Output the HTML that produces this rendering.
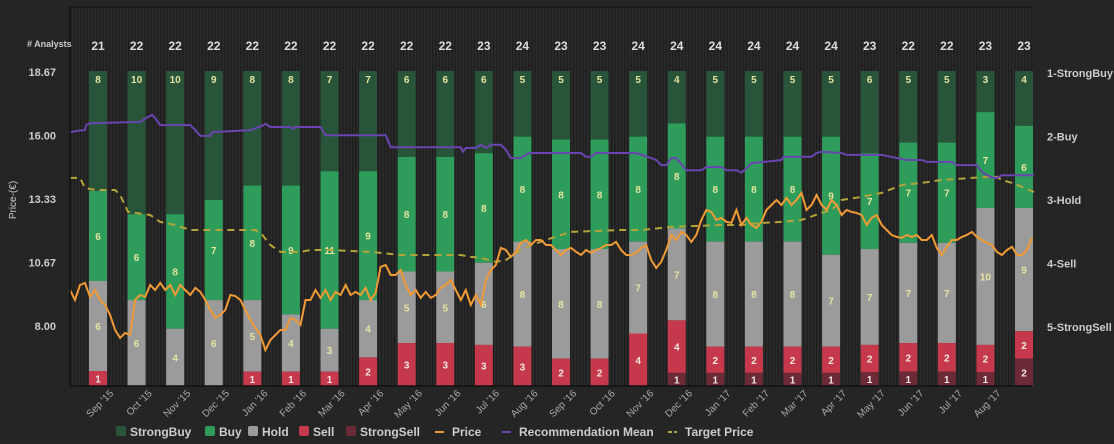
<!DOCTYPE html>
<html><head><meta charset="utf-8"><style>
html,body{margin:0;padding:0;background:#252525;width:1114px;height:444px;overflow:hidden}
svg{display:block;font-family:"Liberation Sans",Arial,sans-serif}
</style></head><body>
<svg id="chart" width="1114" height="444" viewBox="0 0 1114 444">
<defs>
<pattern id="stripes" width="3.2" height="10" patternUnits="userSpaceOnUse">
<rect width="3.2" height="10" fill="#2a2a2a"/><rect width="1.2" height="10" fill="#1c1c1c"/>
</pattern>
</defs>
<rect x="70" y="7" width="962" height="379" fill="url(#stripes)"/>
<g id="bars"></g>
<g id="lines"></g>
<line x1="70" y1="7" x2="70" y2="386" stroke="#111" stroke-width="1.5"/>
<line x1="70" y1="386" x2="1032" y2="386" stroke="#111" stroke-width="1.5"/>
<line x1="70" y1="7" x2="1032" y2="7" stroke="#111" stroke-width="1"/>
<g id="axes" font-size="11" fill="#ccc"></g>
<text x="27" y="47" font-size="9" font-weight="bold" fill="#ccc"># Analysts</text>
<text transform="translate(16,200) rotate(-90)" text-anchor="middle" font-size="10" fill="#ccc">Price-(€)</text>
<g id="legend" font-size="12" font-weight="bold" fill="#ccc"></g>
</svg>
<script>
const months=["Sep '15","Oct '15","Nov '15","Dec '15","Jan '16","Feb '16","Mar '16","Apr '16","May '16","Jun '16","Jul '16","Aug '16","Sep '16","Oct '16","Nov '16","Dec '16","Jan '17","Feb '17","Mar '17","Apr '17","May '17","Jun '17","Jul '17","Aug '17"];
const strongBuy=[8,10,10,9,8,8,7,7,6,6,6,5,5,5,5,4,5,5,5,5,6,5,5,3,4];
const buy=[6,6,8,7,8,9,11,9,8,8,8,8,8,8,8,8,8,8,8,9,7,7,7,7,6];
const hold=[6,6,4,6,5,4,3,4,5,5,6,8,8,8,7,7,8,8,8,7,7,7,7,10,9];
const sell=[1,0,0,0,1,1,1,2,3,3,3,3,2,2,4,4,2,2,2,2,2,2,2,2,2];
const strongSell=[0,0,0,0,0,0,0,0,0,0,0,0,0,0,0,1,1,1,1,1,1,1,1,1,2];
const priceTicks=[8.00,10.67,13.33,16.00,18.67];
const recTicks=["1-StrongBuy","2-Buy","3-Hold","4-Sell","5-StrongSell"];
const price=[9.51,9.09,9.72,9.81,9.22,9.51,9.09,8.88,8.46,7.83,7.50,7.71,7.62,9.09,9.30,9.22,9.72,9.51,9.81,9.51,9.72,9.30,9.72,9.51,9.30,9.60,9.43,9.09,8.67,8.34,8.46,8.67,9.30,9.26,9.09,8.67,8.25,7.92,7.62,6.99,7.41,7.62,7.83,7.83,8.34,8.25,8.04,9.09,9.09,9.51,9.18,9.51,9.09,9.43,9.30,9.72,9.30,9.43,9.30,9.60,9.09,9.39,10.48,10.56,10.14,10.14,10.35,9.72,9.30,9.51,9.18,9.43,9.18,9.30,9.60,9.72,9.93,9.51,9.09,9.51,8.88,9.30,8.88,9.93,10.35,10.56,11.28,11.19,10.90,11.11,11.49,11.61,11.40,11.61,11.61,11.40,11.40,11.19,10.98,11.19,11.28,11.11,10.98,11.19,11.07,11.19,11.28,11.40,11.40,11.53,11.19,10.98,10.98,11.07,11.28,11.40,10.77,10.44,10.69,11.19,11.82,11.61,11.95,11.82,11.53,11.82,12.45,12.87,12.79,12.45,12.54,12.37,12.33,12.87,12.24,12.54,12.24,12.12,12.37,12.87,13.08,13.29,13.08,13.38,13.08,13.29,13.59,12.87,13.08,13.50,13.08,12.87,13.29,13.08,12.66,12.87,12.79,12.75,12.66,12.24,12.54,12.66,12.24,12.03,11.82,11.74,11.70,11.82,11.74,11.82,11.61,11.61,11.82,11.28,10.98,11.32,11.61,11.61,11.74,11.82,11.95,11.74,11.61,11.49,11.40,11.11,10.98,11.19,11.32,10.98,10.98,11.19,11.70];
const tpIdx=[0,2,3,5,9,10,11.6,13,16,18,21,24,26,37,38.4,40,42,46,48,52,60,66,78,80,82,85,87,90,92,98,100,110,114,120,130,134,138,142,146,150,152,154,158,162,166,170,174,180,183,185,186,188,192.4];
const tpVal=[14.22,14.22,13.80,13.71,13.71,13.50,12.79,12.75,12.66,12.37,12.24,12.03,12.03,12.03,11.82,11.40,11.11,11.11,11.19,11.19,11.11,10.98,10.98,10.90,10.86,10.69,10.77,11.19,11.40,11.82,11.95,12.03,12.03,12.16,12.24,12.24,12.33,12.37,12.45,12.75,12.87,13.29,13.42,13.59,13.92,14.01,14.13,14.22,14.26,14.26,14.13,14.01,13.63];
const recIdx=[0,1.6,3,3.2,4,14,15.6,16.4,17,18,24,25,26,28,28.4,36,38.4,39,40,44,44.6,45,50,51,63,64,78,78.4,79,81,82,83,84,86,87,88,90,91.6,92,102,103,104,105,112,113,116,117,118,119,120,121,123,126,127,130,131,133,134,135,136,142,142.4,148,149,150,154,155,162,167,170,171,176,177,181,182,184,185,186,192.4];
const recVal=[1.93,1.91,1.90,1.82,1.79,1.77,1.69,1.66,1.71,1.82,1.82,1.90,1.99,1.99,1.93,1.90,1.83,1.80,1.85,1.85,1.88,1.85,1.85,1.98,1.98,2.17,2.17,2.24,2.18,2.18,2.13,2.18,2.13,2.13,2.21,2.34,2.34,2.26,2.26,2.26,2.32,2.32,2.26,2.26,2.26,2.34,2.37,2.45,2.45,2.34,2.34,2.53,2.53,2.48,2.48,2.53,2.53,2.57,2.50,2.42,2.37,2.32,2.32,2.26,2.24,2.26,2.29,2.29,2.37,2.37,2.40,2.40,2.45,2.45,2.56,2.65,2.65,2.61,2.61];
const analystTotals=strongBuy.map((v,i)=>v+buy[i]+hold[i]+sell[i]+strongSell[i]);

const NS="http://www.w3.org/2000/svg";
function mk(tag,attrs,parent){const e=document.createElementNS(NS,tag);for(const k in attrs)e.setAttribute(k,attrs[k]);parent.appendChild(e);return e;}
const plotL=70,plotR=1032,barTop=71,barBot=386;
const firstC=98,stepC=(1024-98)/24;
function barX(i){return firstC+i*stepC;}
function yPrice(p){return 326-(p-8)/2.6667*63.5;}
function yRec(r){return 73+(r-1)*63.5;}
const tStep=(plotR-plotL)/(price.length-1);
function xT(i){return plotL+i*tStep;}

const gb=document.getElementById('bars');
const series=[[strongBuy,'#28543a','strongbuy'],[buy,'#2e9c5a','buy'],[hold,'#9b9b9b','hold'],[sell,'#c6384c','sell'],[strongSell,'#6b2a35','strongsell']];
const bw=18;
for(let i=0;i<strongBuy.length;i++){
  const tot=analystTotals[i];let y=barTop;const cx=barX(i);
  series.forEach(([arr,col,nm])=>{
    const v=arr[i];if(!v)return;
    const h=v/tot*(barBot-barTop);
    const r=mk('rect',{x:cx-bw/2,y:y,width:bw,height:h,fill:col},gb);
    
    
    const ty=(nm==='strongbuy')?y+12:y+h/2+4;
    const t=mk('text',{x:cx,y:ty,'text-anchor':'middle','font-size':10,'font-weight':'bold',fill:(nm==='sell'||nm==='strongsell')?'#f0e8e0':'#e6e4a0'},gb);
    t.textContent=v;
    
    
    y+=h;
  });
  const at=mk('text',{x:cx,y:50,'text-anchor':'middle','font-size':12,'font-weight':'bold',fill:'#ddd'},gb);
  at.textContent=tot;
  
  
}
const gl=document.getElementById('lines');
function path(xs,ys){return xs.map((x,i)=>(i?'L':'M')+x.toFixed(1)+' '+ys[i].toFixed(1)).join(' ');}
const tp=mk('path',{d:path(tpIdx.map(xT),tpVal.map(yPrice)),fill:'none',stroke:'#b5a43a','stroke-width':2,'stroke-dasharray':'7,5'},gl);


const rm=mk('path',{d:path(recIdx.map(xT),recVal.map(yRec)),fill:'none',stroke:'#6a44b0','stroke-width':2},gl);


const pl=mk('path',{d:path(price.map((p,i)=>xT(i)),price.map(yPrice)),fill:'none',stroke:'#f09a36','stroke-width':2},gl);



const ga=document.getElementById('axes');
priceTicks.forEach(p=>{const t=mk('text',{x:56,y:yPrice(p)+4,'text-anchor':'end','font-weight':'bold'},ga);t.textContent=p.toFixed(2);

});
recTicks.forEach((s,i)=>{const t=mk('text',{x:1047,y:yRec(i+1)+4,'font-weight':'bold'},ga);t.textContent=s;

});
months.forEach((m,i)=>{const x=barX(i)+16;const t=mk('text',{transform:'translate('+x+',394) rotate(-45)','text-anchor':'end','font-size':10,fill:'#aaa'},ga);t.textContent=m;

});

const lg=document.getElementById('legend');
const items=[['StrongBuy','#28543a','sq',116],['Buy','#2e9c5a','sq',205],['Hold','#9b9b9b','sq',248],['Sell','#c6384c','sq',299],['StrongSell','#6b2a35','sq',346],['Price','#f09a36','ln',435],['Recommendation Mean','#6a44b0','ln',502],['Target Price','#b5a43a','dl',668]];
items.forEach(([n,c,k,x])=>{
  const g=mk('g',{},lg);
  
  
  if(k==='sq')mk('rect',{x:x,y:426,width:10,height:10,rx:2,fill:c},g);
  else mk('line',{x1:x,y1:432,x2:x+9,y2:432,stroke:c,'stroke-width':2,'stroke-dasharray':k==='dl'?'4,2':'none'},g);
  const t=mk('text',{x:x+(k==='sq'?14:17),y:436},g);t.textContent=n;
});
</script>
</body></html>
